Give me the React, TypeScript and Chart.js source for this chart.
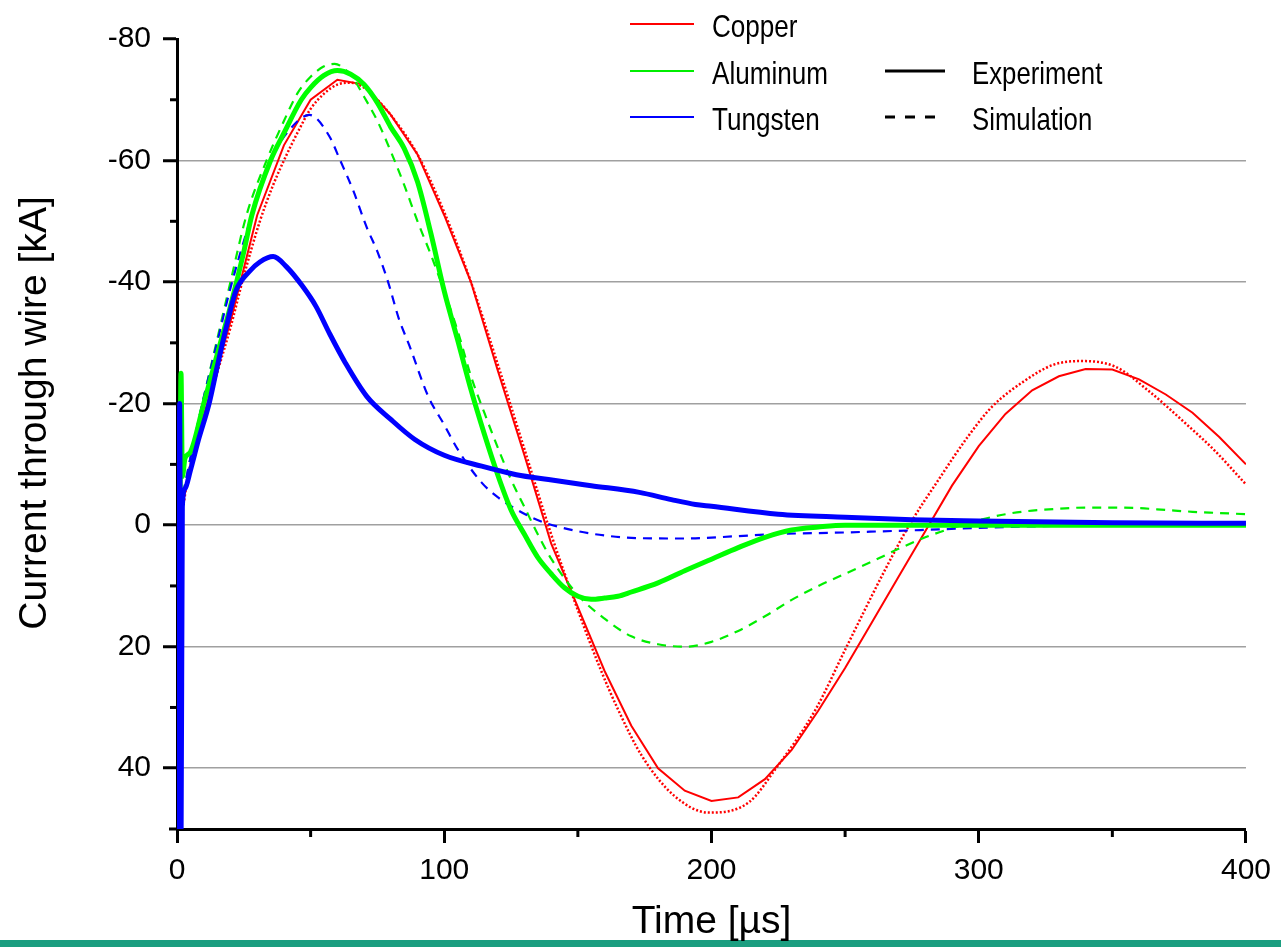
import React, { useEffect, useRef } from "react";
import { Chart, registerables } from "chart.js";

Chart.register(...registerables);

// ---------- data (time in µs, current in kA) ----------
const xTicks = [0, 100, 200, 300, 400];
const xMinor = [50, 150, 250, 350];
const yTicks = [-80, -60, -40, -20, 0, 20, 40];
const yMinor = [-70, -50, -30, -10, 10, 30];
const yGrid = [-60, -40, -20, 0, 20, 40];

// Copper – coarse solid curve
const cuSolidT = [0, 10, 20, 30, 40, 50, 60, 70, 80, 90, 100, 110, 120, 130, 140, 150, 160, 170, 180, 190, 200, 210, 220, 230, 240, 250, 260, 270, 280, 290, 300, 310, 320, 330, 340, 350, 360, 370, 380, 390, 400];
const cuSolidV = [0, -18, -33.5, -51, -62.5, -70, -73.3, -72.5, -67.5, -61, -51, -40, -25.5, -11.5, 3, 13.5, 24, 33, 40, 43.7, 45.4, 44.8, 41.8, 37, 30.5, 23.5, 16, 8.5, 1, -6.5, -13, -18.3, -22.2, -24.5, -25.7, -25.6, -24, -21.5, -18.5, -14.5, -10];

// Copper – dotted trace
const cuDotT = [0, 0.5, 1, 2, 4, 7, 10, 15, 20, 25, 31, 36, 40, 45, 50, 55, 60, 65, 70, 75, 80, 90, 100, 110, 120, 130, 140, 150, 158, 165, 174, 186, 199, 214, 224, 239, 250, 265, 274, 285, 296, 305, 317, 328, 338, 351, 363, 378, 388, 400];
const cuDotV = [0, 12, -8, -3, -8, -13, -17, -25, -32.5, -41, -50, -56, -60, -64.5, -68.5, -71, -72.5, -72.8, -72, -70, -67.5, -61, -51.5, -40, -26.5, -12.5, 1.5, 14, 23.2, 30.3, 38, 44.5, 47.3, 45.6, 40.1, 30.3, 20.5, 7.3, 0, -7.5, -14.6, -19.5, -23.7, -26.4, -27, -26.1, -22.3, -16.5, -12.4, -6.7];

// Aluminum – experiment
const alExpT = [0, 0.7, 1.5, 2, 3, 5, 10, 15, 20, 25, 28, 35, 40, 46.5, 50, 55, 60, 65, 70, 75, 80, 85, 90, 95, 100, 105, 110, 115, 120, 125, 130, 135, 140, 145, 150, 155, 160, 165, 170, 180, 190, 200, 210, 220, 230, 240, 250, 300, 350, 400];
const alExpV = [0, 30, -25, -8, -11, -12, -20, -28, -36, -45, -51, -60, -64.5, -70, -72, -74, -74.8, -74.2, -72.5, -69.5, -65.5, -62, -56.5, -48, -38.5, -30.5, -22.3, -15, -8.3, -2.5, 1.5, 5.3, 8, 10.3, 11.7, 12.2, 12, 11.7, 11, 9.5, 7.5, 5.6, 3.7, 2, 0.8, 0.3, 0, 0, 0, 0];

// Aluminum – simulation
const alSimT = [0, 5, 10, 15, 20, 26, 33.5, 40, 45, 50, 55, 59, 63, 66, 70, 75, 80, 85, 90, 95, 100, 105, 110, 115, 120, 125, 130, 135, 140, 150, 160, 170, 180, 190, 200, 210, 220, 230, 240, 250, 260, 270, 280, 290, 300, 310, 320, 330, 340, 350, 360, 370, 380, 390, 400];
const alSimV = [0, -11, -21, -30.5, -40, -51, -60, -66.5, -71, -73.8, -75.5, -75.9, -75, -73.5, -70.5, -66.5, -61.5, -56, -50, -44.5, -38.5, -32, -24.5, -18.5, -12.8, -7.5, -3, 1.5, 5.5, 11.5, 15.4, 18.3, 19.6, 20, 19.2, 17.4, 15, 12.3, 10, 8, 6, 3.9, 2, 0.5, -0.8, -1.8, -2.4, -2.7, -2.9, -2.9, -2.8, -2.5, -2.2, -2, -1.8];

// Tungsten – experiment
const wExpT = [0, 0.5, 1, 1.5, 2, 3, 5, 8, 12, 15, 18.5, 22, 27, 31, 36, 41, 47, 52, 57, 63, 71, 80, 89, 100, 114, 127, 139, 155, 173, 185, 194, 200, 225, 250, 275, 300, 350, 400];
const wExpV = [0, 55, -20, 55, -3, -6, -9, -14, -20, -26, -32.7, -38.5, -41.7, -43.3, -44.2, -42.5, -39.3, -36, -31.6, -26.7, -21.2, -17.4, -14.1, -11.5, -9.7, -8.3, -7.5, -6.5, -5.4, -4.2, -3.4, -3.1, -1.8, -1.3, -0.9, -0.7, -0.4, -0.3];

// Tungsten – simulation
const wSimT = [0, 5, 10, 15, 20, 28, 35, 42, 49.6, 57, 61, 66, 71, 75, 79, 83, 87, 94, 100, 105, 114, 120, 127, 133, 139, 150, 160, 170, 190, 210, 222, 250, 285, 303, 320, 350, 400];
const wSimV = [0, -11, -21, -30, -39, -51, -60, -65, -67.5, -64, -60.1, -55, -49, -45, -40, -34, -29.5, -21.2, -16.5, -12.5, -7, -4.6, -2.6, -1.2, -0.2, 1, 1.7, 2.1, 2.2, 1.8, 1.5, 1.2, 0.7, 0.4, 0.2, 0, 0];

const legendMaterials = ["Copper", "Aluminum", "Tungsten"];
const legendColors = ["#ff0000", "#00ee00", "#0000ff"];
const legendKinds = ["Experiment", "Simulation"];

const FONT = "'Liberation Sans', Arial, sans-serif";

const pts = (t: number[], v: number[]) => t.map((x, i) => ({ x, y: v[i] }));

const extrasPlugin = {
  id: "extras",
  afterDraw(chart: any) {
    const ctx = chart.ctx as CanvasRenderingContext2D;
    const xs = chart.scales.x;
    const ys = chart.scales.y;
    ctx.save();
    // minor ticks
    ctx.strokeStyle = "#000";
    ctx.lineWidth = 3;
    xMinor.forEach((v) => {
      const px = xs.getPixelForValue(v);
      ctx.beginPath();
      ctx.moveTo(px, xs.top);
      ctx.lineTo(px, xs.top + 8);
      ctx.stroke();
    });
    yMinor.forEach((v) => {
      const py = ys.getPixelForValue(v);
      ctx.beginPath();
      ctx.moveTo(ys.right, py);
      ctx.lineTo(ys.right - 7, py);
      ctx.stroke();
    });
    // short extension of the x axis line to the left of the y axis
    ctx.beginPath();
    ctx.moveTo(ys.right - 8, xs.top);
    ctx.lineTo(ys.right, xs.top);
    ctx.stroke();

    // axis titles
    ctx.fillStyle = "#000";
    ctx.font = `39px ${FONT}`;
    ctx.textAlign = "center";
    ctx.textBaseline = "alphabetic";
    ctx.fillText("Time [µs]", (chart.chartArea.left + chart.chartArea.right) / 2, 933);
    ctx.save();
    ctx.translate(46, 413);
    ctx.rotate(-Math.PI / 2);
    ctx.fillText("Current through wire [kA]", 0, 0);
    ctx.restore();

    // legend
    const rows = [24, 71, 117];
    const base = [37, 84, 130];
    ctx.textAlign = "left";
    ctx.font = `32px ${FONT}`;
    legendMaterials.forEach((name, i) => {
      ctx.strokeStyle = legendColors[i];
      ctx.lineWidth = 2;
      ctx.setLineDash([]);
      ctx.beginPath();
      ctx.moveTo(630, rows[i]);
      ctx.lineTo(694, rows[i]);
      ctx.stroke();
      ctx.save();
      ctx.translate(712, base[i]);
      ctx.scale(0.815, 1);
      ctx.fillText(name, 0, 0);
      ctx.restore();
    });
    legendKinds.forEach((name, i) => {
      const r = i + 1;
      ctx.strokeStyle = "#000";
      ctx.lineWidth = 3;
      ctx.setLineDash(i === 0 ? [] : [10, 10]);
      ctx.beginPath();
      ctx.moveTo(885, rows[r]);
      ctx.lineTo(945, rows[r]);
      ctx.stroke();
      ctx.setLineDash([]);
      ctx.save();
      ctx.translate(972, base[r]);
      ctx.scale(0.805, 1);
      ctx.fillText(name, 0, 0);
      ctx.restore();
    });
    ctx.restore();
  },
};

export default function App() {
  const ref = useRef<HTMLCanvasElement | null>(null);

  useEffect(() => {
    if (!ref.current) return;
    const smooth = { cubicInterpolationMode: "monotone" as const, pointRadius: 0 };
    const chart = new Chart(ref.current, {
      type: "line",
      data: {
        datasets: [
          { label: "Tungsten exp", data: pts(wExpT, wExpV), borderColor: "#0000ff", borderWidth: 5, ...smooth },
          { label: "Aluminum exp", data: pts(alExpT, alExpV), borderColor: "#00ff00", borderWidth: 5, ...smooth },
          { label: "Tungsten sim", data: pts(wSimT, wSimV), borderColor: "#0000ff", borderWidth: 2.2, borderDash: [9, 7], ...smooth },
          { label: "Aluminum sim", data: pts(alSimT, alSimV), borderColor: "#00ee00", borderWidth: 2.2, borderDash: [9, 7], ...smooth },
          { label: "Copper dotted", data: pts(cuDotT, cuDotV), borderColor: "#ff0000", borderWidth: 2.5, borderDash: [2, 2], ...smooth },
          { label: "Copper solid", data: pts(cuSolidT, cuSolidV), borderColor: "#ff0000", borderWidth: 2, tension: 0, pointRadius: 0 },
        ],
      },
      options: {
        animation: false,
        responsive: false,
        maintainAspectRatio: false,
        devicePixelRatio: 1,
        layout: { padding: { top: 39, right: 32, left: 0, bottom: 0 } },
        plugins: { legend: { display: false }, tooltip: { enabled: false } },
        elements: { point: { radius: 0 } },
        scales: {
          x: {
            type: "linear",
            min: 0,
            max: 400,
            afterBuildTicks: (s: any) => {
              s.ticks = xTicks.map((v) => ({ value: v }));
            },
            afterFit: (s: any) => {
              s.height = 120;
            },
            grid: { drawOnChartArea: false, tickLength: 14, tickWidth: 3, tickColor: "#000" },
            border: { color: "#000", width: 3 },
            ticks: { font: { size: 30, family: FONT }, color: "#000", padding: 10, maxRotation: 0 },
          },
          y: {
            type: "linear",
            reverse: true,
            min: -80,
            max: 50,
            afterBuildTicks: (s: any) => {
              s.ticks = yTicks.map((v) => ({ value: v }));
            },
            afterFit: (s: any) => {
              s.width = 177;
            },
            grid: {
              color: (c: any) => (c.tick && yGrid.includes(c.tick.value) ? "#a0a0a0" : "rgba(0,0,0,0)"),
              lineWidth: 1.5,
              tickLength: 14,
              tickWidth: 3,
              tickColor: "#000",
            },
            border: { color: "#000", width: 3 },
            ticks: { font: { size: 30, family: FONT }, color: "#000", padding: 12 },
          },
        },
      },
      plugins: [extrasPlugin],
    });
    return () => chart.destroy();
  }, []);

  return (
    <div style={{ position: "fixed", left: 0, top: 0, width: 1281, height: 949, background: "#fff", overflow: "hidden" }}>
      <div style={{ position: "absolute", left: 0, top: 940, width: 1281, height: 7, background: "#1b9e80" }} />
      <canvas ref={ref} width={1281} height={949} style={{ position: "absolute", left: 0, top: 0, width: 1281, height: 949 }} />
    </div>
  );
}
